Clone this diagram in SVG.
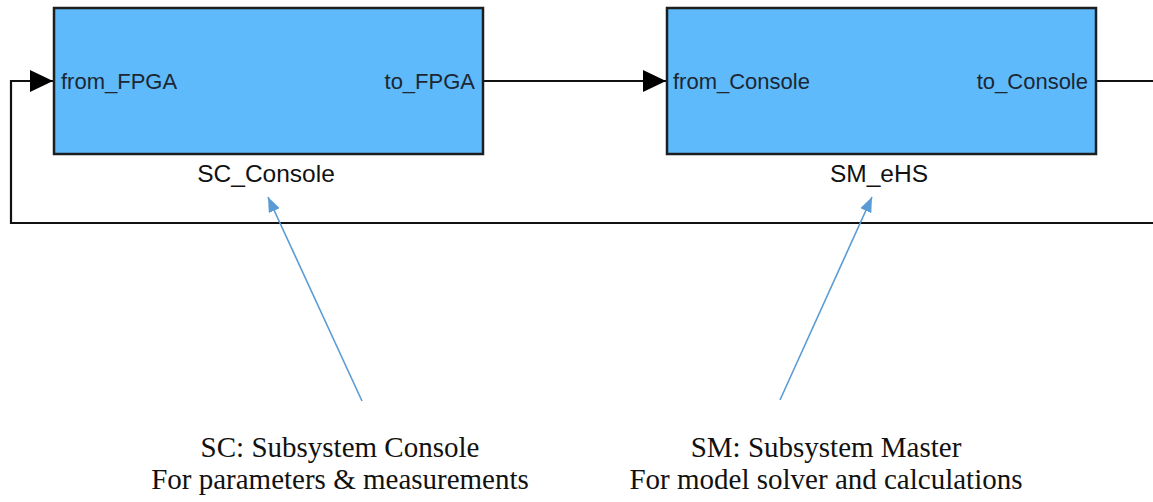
<svg xmlns="http://www.w3.org/2000/svg" width="1153" height="502" viewBox="0 0 1153 502">
<style>
.blk{fill:#5ebafb;stroke:#1e1e1e;stroke-width:2.5}
.port{font-family:"Liberation Sans",Arial,sans-serif;font-size:22px;fill:#1c2733}
.name{font-family:"Liberation Sans",Arial,sans-serif;font-size:24.5px;fill:#111;text-anchor:middle}
.note{font-family:"Liberation Serif","Times New Roman",serif;font-size:29px;fill:#111;text-anchor:middle}
.wire{fill:none;stroke:#111;stroke-width:2.2}
.ann{fill:none;stroke:#5b9bd5;stroke-width:1.6}
</style>
<defs>
<marker id="ah" markerUnits="userSpaceOnUse" markerWidth="24" markerHeight="22" refX="23" refY="11" orient="auto">
<path d="M0,0 L23,11 L0,22 Z" fill="#000"/>
</marker>
<marker id="bh" markerUnits="userSpaceOnUse" markerWidth="16" markerHeight="12" refX="15" refY="6" orient="auto">
<path d="M0,0 L15,6 L0,12 Z" fill="#5b9bd5"/>
</marker>
</defs>
<g id="connectors">
<path class="wire" d="M1153,223 H11 V81 H53" marker-end="url(#ah)"/>
<path class="wire" d="M483,81 H666" marker-end="url(#ah)"/>
<path class="wire" d="M1096,81 H1153"/>
<path class="ann" d="M362,401 L268,197" marker-end="url(#bh)"/>
<path class="ann" d="M780,400 L872,197" marker-end="url(#bh)"/>
</g>
<g id="sc_console">
<rect class="blk" x="54" y="8" width="429" height="146"/>
<text class="port" x="61" y="89">from_FPGA</text>
<text class="port" x="475" y="89" text-anchor="end">to_FPGA</text>
<text class="name" x="266" y="182">SC_Console</text>
</g>
<g id="sm_ehs">
<rect class="blk" x="667" y="8" width="429" height="146"/>
<text class="port" x="673" y="89">from_Console</text>
<text class="port" x="1088" y="89" text-anchor="end">to_Console</text>
<text class="name" x="879" y="182">SM_eHS</text>
</g>
<g id="note_sc">
<text class="note" x="340" y="457">SC: Subsystem Console</text>
<text class="note" x="340" y="489">For parameters &amp; measurements</text>
</g>
<g id="note_sm">
<text class="note" x="826" y="457">SM: Subsystem Master</text>
<text class="note" x="826" y="489">For model solver and calculations</text>
</g>
</svg>
